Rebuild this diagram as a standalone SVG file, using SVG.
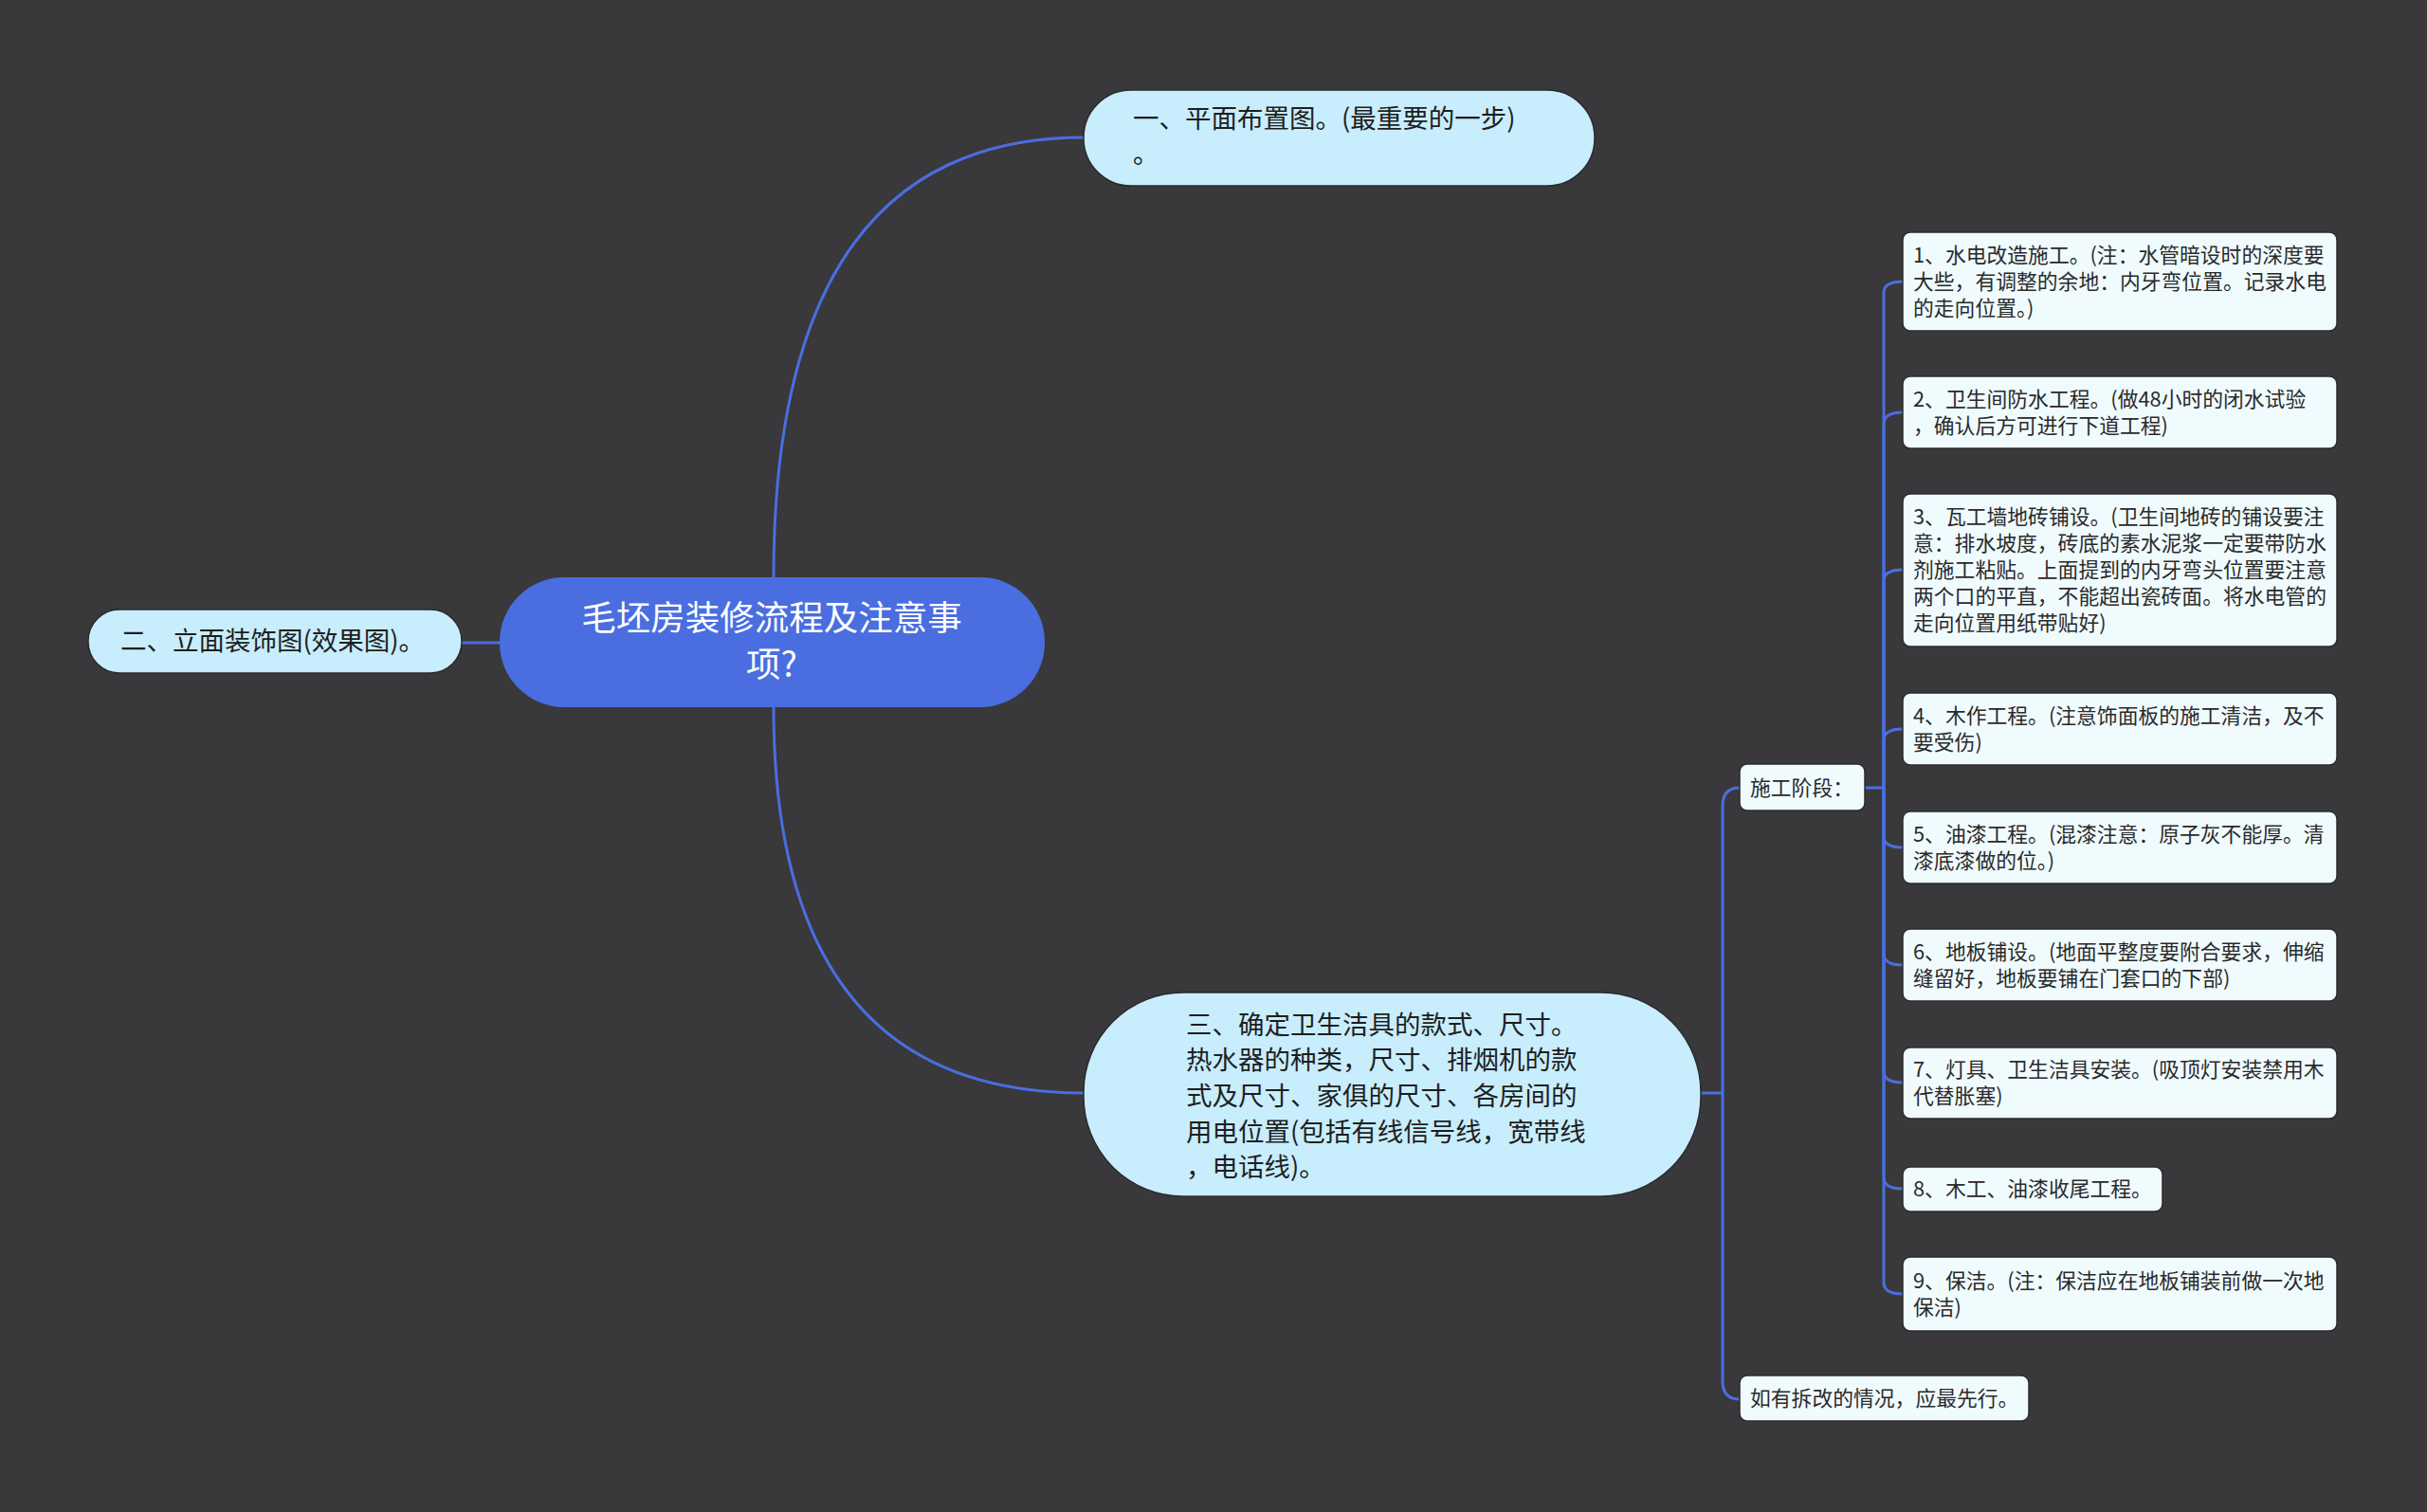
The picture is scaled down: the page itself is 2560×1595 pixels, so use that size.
<svg xmlns="http://www.w3.org/2000/svg" width="2560" height="1595" viewBox="0 0 2560 1595">
<style>
text{font-family:"Microsoft YaHei","Noto Sans CJK SC","Noto Sans",sans-serif}
.root{fill:#4A6EE0}
.rt{fill:#ffffff;font-size:36.5px;text-anchor:middle}
.l1{fill:#C8EDFC;stroke:#2b2b2d;stroke-width:1.5}
.t1{fill:#1e1e1e;font-size:27.5px}
.leaf{fill:#F0FBFE;stroke:#2b2b2d;stroke-width:1.5}
.t2{fill:#2a2a2a;font-size:21.8px}
.c{fill:none;stroke:#4A6EE0;stroke-width:3;stroke-linecap:round}
</style>
<rect width="2560" height="1595" fill="#39383A"/>
<g id="connectors">
<path class="c" d="M816 609 Q816 145 1143 145"/>
<path class="c" d="M816 746 Q816 1153 1143 1153"/>
<path class="c" d="M527 678 H487"/>
<path class="c" d="M1794 1153 H1817 V850 Q1817 831 1835 831"/>
<path class="c" d="M1817 1153 V1457 Q1817 1476 1835 1476"/>
<path class="c" d="M1967 831 H1987"/>
<path class="c" d="M1987 831 V309 Q1987 297 2007 297"/>
<path class="c" d="M1987 831 V447 Q1987 435 2007 435"/>
<path class="c" d="M1987 831 V613 Q1987 601 2007 601"/>
<path class="c" d="M1987 831 V781 Q1987 769 2007 769"/>
<path class="c" d="M1987 831 V882 Q1987 894 2007 894"/>
<path class="c" d="M1987 831 V1006 Q1987 1018 2007 1018"/>
<path class="c" d="M1987 831 V1130 Q1987 1142 2007 1142"/>
<path class="c" d="M1987 831 V1242 Q1987 1254 2007 1254"/>
<path class="c" d="M1987 831 V1353 Q1987 1365 2007 1365"/>
</g>
<g id="root">
<rect class="root" x="527" y="609" width="575" height="137" rx="68"/>
<text class="rt" x="814" y="665">毛坯房装修流程及注意事</text>
<text class="rt" x="814" y="714">项?</text>
</g>
<g id="n1">
<rect class="l1" x="1143" y="95" width="539" height="101" rx="50"/>
<text class="t1" x="1195" y="135">一、平面布置图。(最重要的一步)</text>
<text class="t1" x="1195" y="172">。</text>
</g>
<g id="n2">
<rect class="l1" x="93" y="643" width="394" height="67" rx="33"/>
<text class="t1" x="127" y="686">二、立面装饰图(效果图)。</text>
</g>
<g id="n3">
<rect class="l1" x="1143" y="1047" width="651" height="215" rx="105"/>
<text class="t1" x="1251" y="1091">三、确定卫生洁具的款式、尺寸。</text>
<text class="t1" x="1251" y="1128">热水器的种类，尺寸、排烟机的款</text>
<text class="t1" x="1251" y="1166">式及尺寸、家俱的尺寸、各房间的</text>
<text class="t1" x="1251" y="1204">用电位置(包括有线信号线，宽带线</text>
<text class="t1" x="1251" y="1241">，电话线)。</text>
</g>
<g id="stage">
<rect class="leaf" x="1835" y="806" width="132" height="49" rx="8"/>
<text class="t2" x="1846" y="839">施工阶段：</text>
</g>
<g id="demo">
<rect class="leaf" x="1835" y="1451" width="305" height="48" rx="8"/>
<text class="t2" x="1846" y="1483">如有拆改的情况，应最先行。</text>
</g>
<g id="s1">
<rect class="leaf" x="2007" y="245" width="458" height="104" rx="8"/>
<text class="t2" x="2018" y="277">1、水电改造施工。(注：水管暗设时的深度要</text>
<text class="t2" x="2018" y="305">大些，有调整的余地：内牙弯位置。记录水电</text>
<text class="t2" x="2018" y="333">的走向位置。)</text>
</g>
<g id="s2">
<rect class="leaf" x="2007" y="397" width="458" height="76" rx="8"/>
<text class="t2" x="2018" y="429">2、卫生间防水工程。(做48小时的闭水试验</text>
<text class="t2" x="2018" y="457">，确认后方可进行下道工程)</text>
</g>
<g id="s3">
<rect class="leaf" x="2007" y="521" width="458" height="161" rx="8"/>
<text class="t2" x="2018" y="553">3、瓦工墙地砖铺设。(卫生间地砖的铺设要注</text>
<text class="t2" x="2018" y="581">意：排水坡度，砖底的素水泥浆一定要带防水</text>
<text class="t2" x="2018" y="609">剂施工粘贴。上面提到的内牙弯头位置要注意</text>
<text class="t2" x="2018" y="637">两个口的平直，不能超出瓷砖面。将水电管的</text>
<text class="t2" x="2018" y="665">走向位置用纸带贴好)</text>
</g>
<g id="s4">
<rect class="leaf" x="2007" y="731" width="458" height="76" rx="8"/>
<text class="t2" x="2018" y="763">4、木作工程。(注意饰面板的施工清洁，及不</text>
<text class="t2" x="2018" y="791">要受伤)</text>
</g>
<g id="s5">
<rect class="leaf" x="2007" y="856" width="458" height="76" rx="8"/>
<text class="t2" x="2018" y="888">5、油漆工程。(混漆注意：原子灰不能厚。清</text>
<text class="t2" x="2018" y="916">漆底漆做的位。)</text>
</g>
<g id="s6">
<rect class="leaf" x="2007" y="980" width="458" height="76" rx="8"/>
<text class="t2" x="2018" y="1012">6、地板铺设。(地面平整度要附合要求，伸缩</text>
<text class="t2" x="2018" y="1040">缝留好，地板要铺在门套口的下部)</text>
</g>
<g id="s7">
<rect class="leaf" x="2007" y="1105" width="458" height="75" rx="8"/>
<text class="t2" x="2018" y="1136">7、灯具、卫生洁具安装。(吸顶灯安装禁用木</text>
<text class="t2" x="2018" y="1164">代替胀塞)</text>
</g>
<g id="s8">
<rect class="leaf" x="2007" y="1231" width="274" height="47" rx="8"/>
<text class="t2" x="2018" y="1262">8、木工、油漆收尾工程。</text>
</g>
<g id="s9">
<rect class="leaf" x="2007" y="1326" width="458" height="78" rx="8"/>
<text class="t2" x="2018" y="1359">9、保洁。(注：保洁应在地板铺装前做一次地</text>
<text class="t2" x="2018" y="1387">保洁)</text>
</g>
</svg>
